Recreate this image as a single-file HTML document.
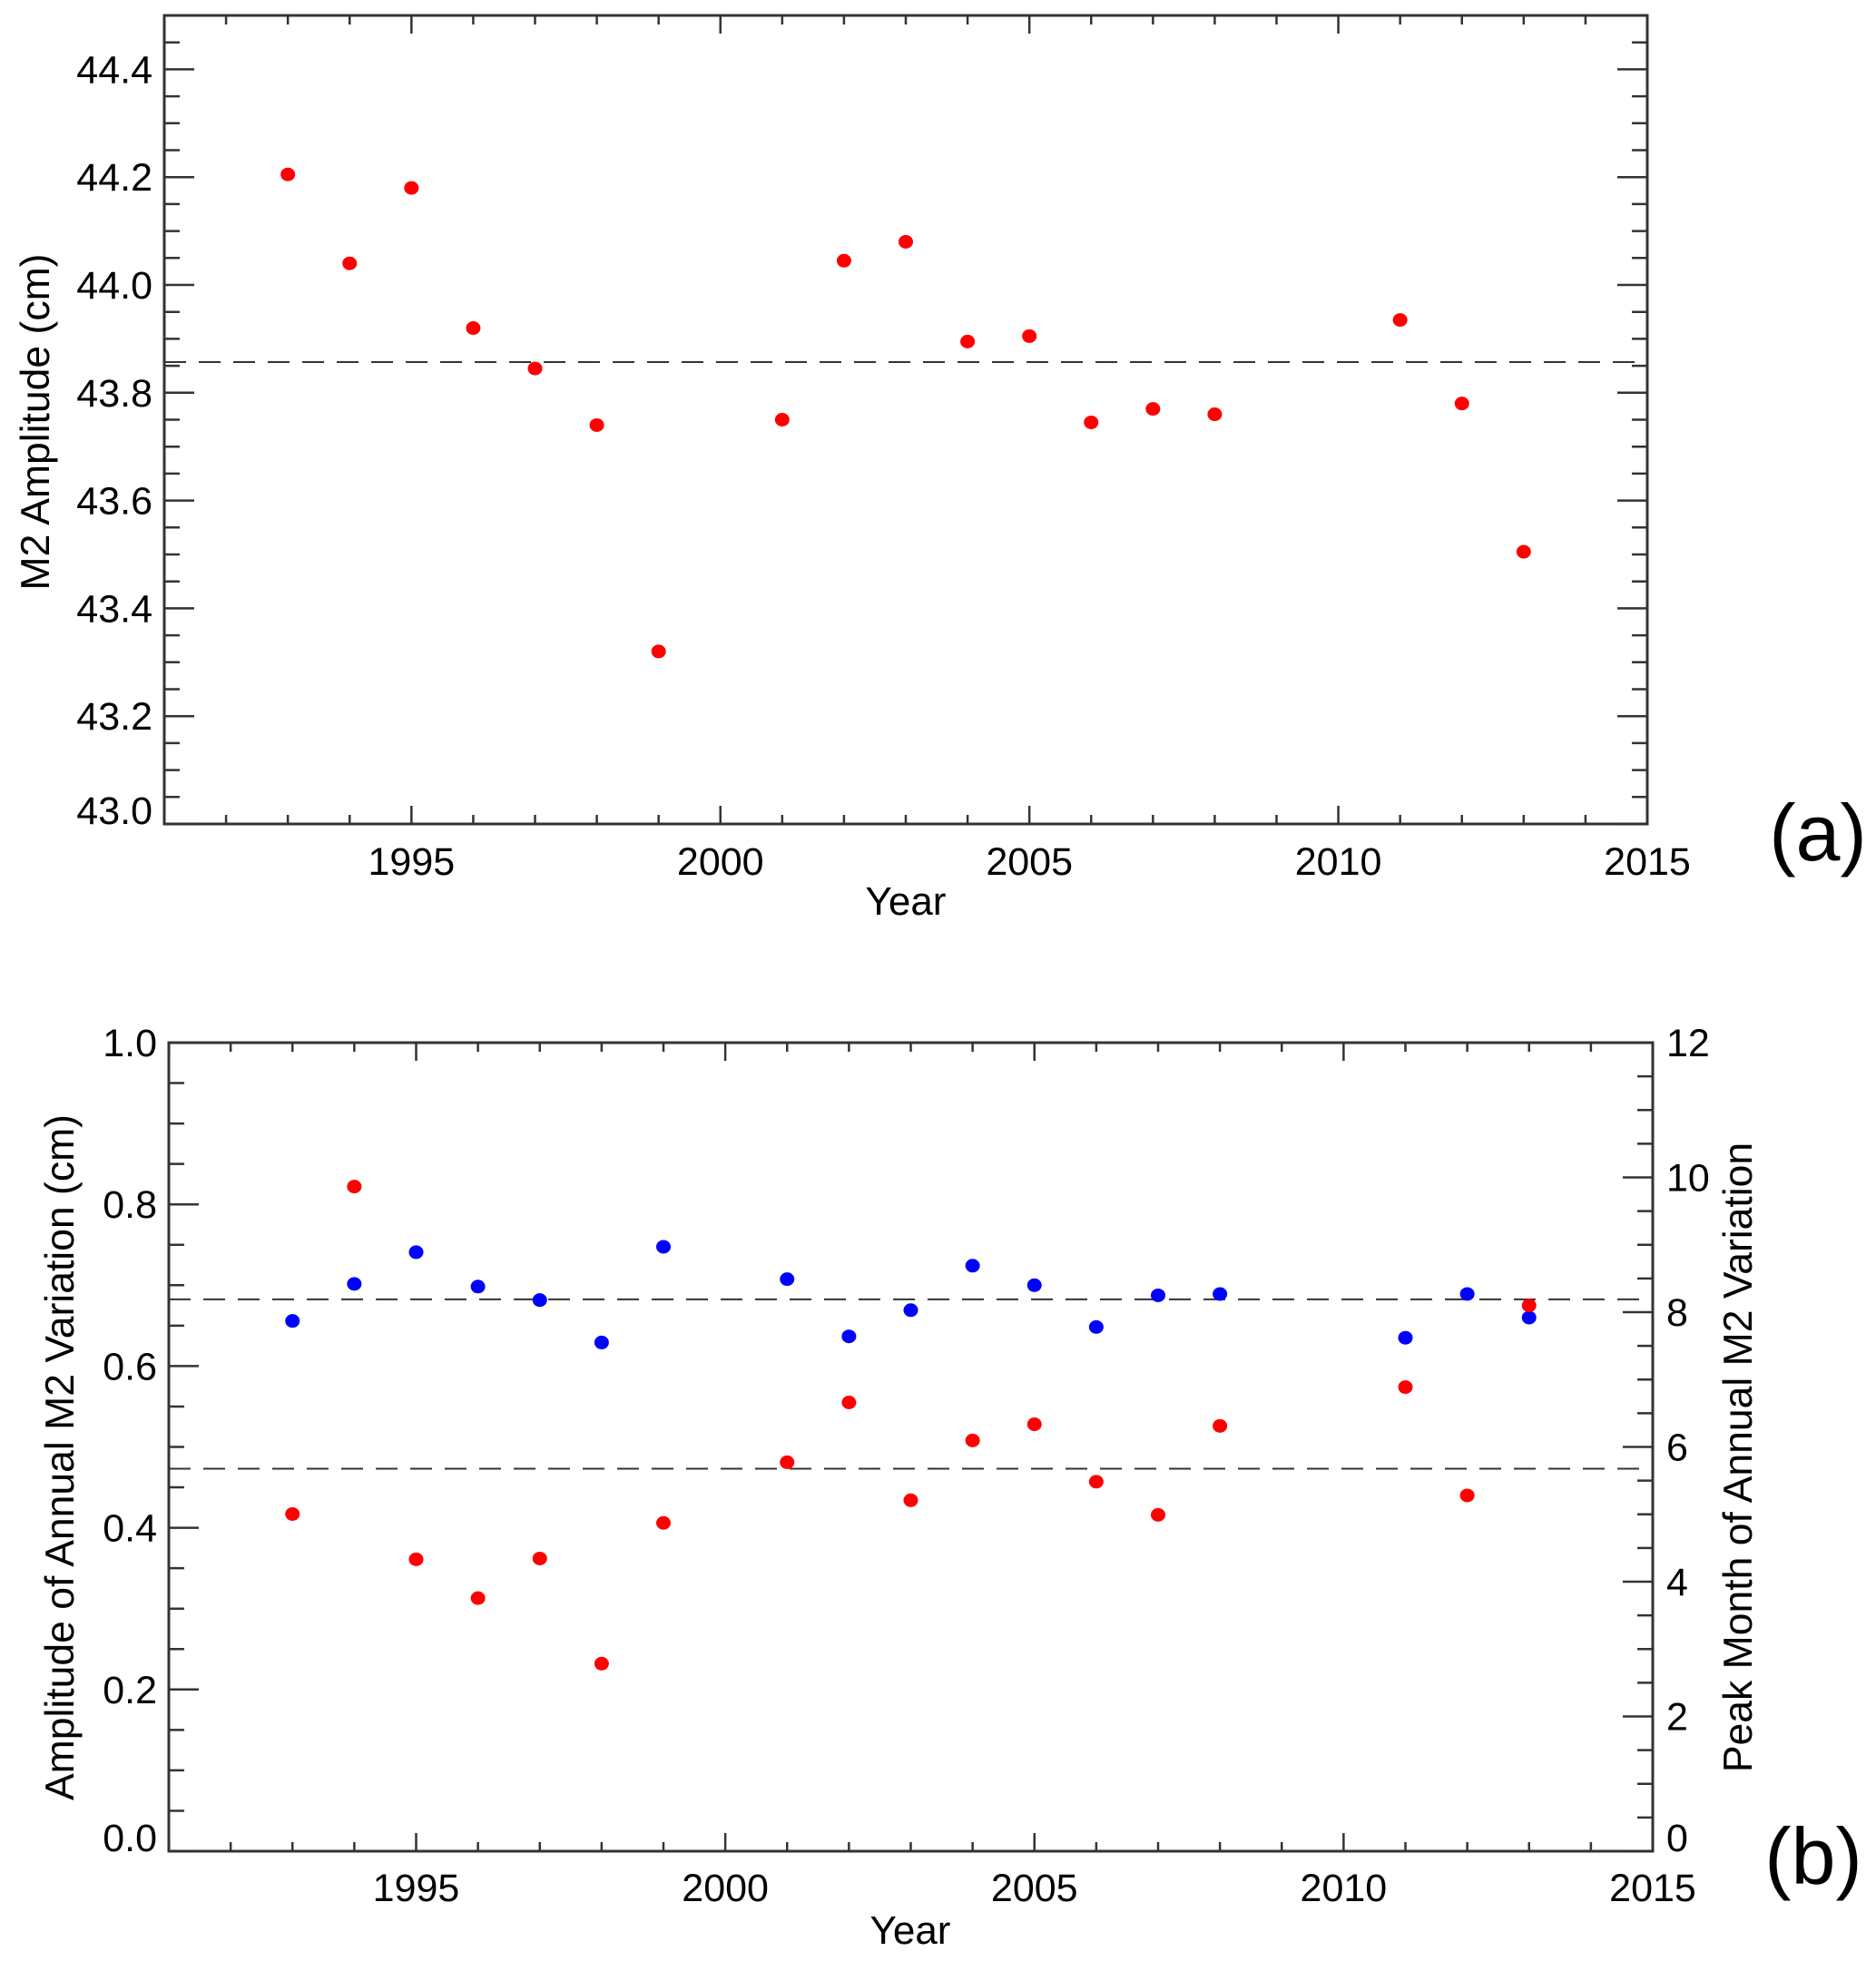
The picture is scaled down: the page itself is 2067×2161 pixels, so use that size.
<!DOCTYPE html>
<html><head><meta charset="utf-8"><style>
html,body{margin:0;padding:0;background:#fff;}
svg{display:block;font-family:"Liberation Sans",sans-serif;}
</style></head><body>
<svg id="fig" width="2067" height="2161" viewBox="0 0 2067 2161" xmlns="http://www.w3.org/2000/svg">
<g id="pa"></g>
<g id="pb"></g>
</svg>
<script>
const yearsA = [1993,1994,1995,1996,1997,1998,1999,2001,2002,2003,2004,2005,2006,2007,2008,2011,2012,2013];
const ampA = [44.205,44.04,44.18,43.92,43.845,43.74,43.32,43.75,44.045,44.08,43.895,43.905,43.745,43.77,43.76,43.935,43.78,43.505];
const meanA = [43.857];
const yearsB = [1993,1994,1995,1996,1997,1998,1999,2001,2002,2003,2004,2005,2006,2007,2008,2011,2012,2013];
const annAmpB = [0.417,0.822,0.361,0.313,0.362,0.232,0.406,0.481,0.555,0.434,0.508,0.528,0.457,0.416,0.526,0.574,0.440,0.675];
const peakMonthB = [7.87,8.42,8.89,8.38,8.18,7.55,8.97,8.49,7.64,8.03,8.69,8.40,7.78,8.25,8.27,7.62,8.27,7.92];
const meanAmpB = [0.473];
const meanPeakB = [8.19];
const xTicks = [1995,2000,2005,2010,2015];
const yTicksA = ["43.0","43.2","43.4","43.6","43.8","44.0","44.2","44.4"];
const yTicksB = ["0.0","0.2","0.4","0.6","0.8","1.0"];
const yTicksBR = ["0","2","4","6","8","10","12"];

const NS="http://www.w3.org/2000/svg";
function mk(parent,tag,attrs){const e=document.createElementNS(NS,tag);for(const k in attrs)e.setAttribute(k,attrs[k]);parent.appendChild(e);return e;}
const AX="#333";

function panel(g,o){
  const sx=v=>o.l+(v-o.x0)/(o.x1-o.x0)*(o.r-o.l);
  const sy=v=>o.b-(v-o.y0)/(o.y1-o.y0)*(o.b-o.t);
  const sy2=o.y20!==undefined?(v=>o.b-(v-o.y20)/(o.y21-o.y20)*(o.b-o.t)):null;
  const frame=mk(g,'rect',{x:o.l,y:o.t,width:o.r-o.l,height:o.b-o.t,fill:'none',stroke:AX,'stroke-width':3});
  
  
  for(let yr=Math.ceil(o.x0);yr<=o.x1;yr++){
    const x=sx(yr),len=yr%5===0?20:10;
    const t1=mk(g,'line',{x1:x,x2:x,y1:o.b,y2:o.b-len,stroke:AX,'stroke-width':2.5});
    
    
    const t2=mk(g,'line',{x1:x,x2:x,y1:o.t,y2:o.t+len,stroke:AX,'stroke-width':2.5});
    
    
  }
  xTicks.forEach(v=>{
    const t=mk(g,'text',{x:sx(v),y:o.xlabY,'font-size':43,'text-anchor':'middle'});t.textContent=v;
    
    
  });
  const ns=Math.round((o.y1-o.y0)/o.yminor);
  for(let i=0;i<=ns;i++){
    const v=o.y0+i*o.yminor; const y=sy(v);
    const major=Math.abs((v-o.ymajBase)/o.ymajor-Math.round((v-o.ymajBase)/o.ymajor))<1e-6;
    const len=major?33:17;
    const a=mk(g,'line',{x1:o.l,x2:o.l+len,y1:y,y2:y,stroke:AX,'stroke-width':2.5});
    
    
    if(!sy2){
      const b=mk(g,'line',{x1:o.r,x2:o.r-len,y1:y,y2:y,stroke:AX,'stroke-width':2.5});
      
      
    }
  }
  o.yLabels.forEach((s,i)=>{
    const off=i===0?-15:0;
    const t=mk(g,'text',{x:o.l-13,y:sy(parseFloat(s))+15+off,'font-size':43,'text-anchor':'end'});t.textContent=s;
    
    
  });
  if(sy2){
    for(let v=o.y20;v<=o.y21+1e-9;v+=0.5){
      const y=sy2(v),len=(Math.abs(v%2)<1e-9)?33:17;
      const b=mk(g,'line',{x1:o.r,x2:o.r-len,y1:y,y2:y,stroke:AX,'stroke-width':2.5});
      
      
    }
    yTicksBR.forEach((s,i)=>{
      const off=i===0?-15:0;
      const t=mk(g,'text',{x:o.r+15,y:sy2(parseFloat(s))+15+off,'font-size':43,'text-anchor':'start'});t.textContent=s;
      
      
    });
  }
  return {sx,sy,sy2};
}

// Panel A
const ga=document.getElementById('pa');
const A=panel(ga,{l:181,r:1815,t:17,b:908,x0:1991,x1:2015,y0:43.0,y1:44.5,yminor:0.05,ymajor:0.2,ymajBase:43.0,yLabels:yTicksA,xlabY:964});
const da=mk(ga,'line',{x1:181,x2:1815,y1:A.sy(meanA[0]),y2:A.sy(meanA[0]),stroke:AX,'stroke-width':2,'stroke-dasharray':'24 14'});


yearsA.forEach((yr,i)=>{
  const c=mk(ga,'ellipse',{cx:A.sx(yr),cy:A.sy(ampA[i]),rx:8,ry:7.5,fill:'#ff0000'});
  
  
});
let t;
t=mk(ga,'text',{x:0,y:0,'font-size':44.5,'text-anchor':'middle',transform:'translate(54,465) rotate(-90)'});t.textContent='M2 Amplitude (cm)';


t=mk(ga,'text',{x:998,y:1008,'font-size':44,'text-anchor':'middle'});t.textContent='Year';


t=mk(ga,'text',{x:2003,y:948,'font-size':88,'text-anchor':'middle'});t.textContent='(a)';



// Panel B
const gb=document.getElementById('pb');
const B=panel(gb,{l:186,r:1821,t:1149,b:2040,x0:1991,x1:2015,y0:0,y1:1,yminor:0.05,ymajor:0.2,ymajBase:0,yLabels:yTicksB,xlabY:2095,y20:0,y21:12});
[[meanPeakB[0],B.sy2],[meanAmpB[0],B.sy]].forEach(([v,f])=>{
  const d=mk(gb,'line',{x1:186,x2:1821,y1:f(v),y2:f(v),stroke:AX,'stroke-width':2,'stroke-dasharray':'24 14'});
  
  
});
yearsB.forEach((yr,i)=>{
  const c=mk(gb,'ellipse',{cx:B.sx(yr),cy:B.sy2(peakMonthB[i]),rx:8,ry:7.5,fill:'#0000ff'});
  
  
});
yearsB.forEach((yr,i)=>{
  const c=mk(gb,'ellipse',{cx:B.sx(yr),cy:B.sy(annAmpB[i]),rx:8,ry:7.5,fill:'#ff0000'});
  
  
});
t=mk(gb,'text',{x:0,y:0,'font-size':44.5,'text-anchor':'middle',transform:'translate(81,1606) rotate(-90)'});t.textContent='Amplitude of Annual M2 Variation (cm)';


t=mk(gb,'text',{x:0,y:0,'font-size':44.5,'text-anchor':'middle',transform:'translate(1930,1606) rotate(-90)'});t.textContent='Peak Month of Annual M2 Variation';


t=mk(gb,'text',{x:1003,y:2142,'font-size':44,'text-anchor':'middle'});t.textContent='Year';


t=mk(gb,'text',{x:1998,y:2076,'font-size':88,'text-anchor':'middle'});t.textContent='(b)';


</script>
</body></html>
